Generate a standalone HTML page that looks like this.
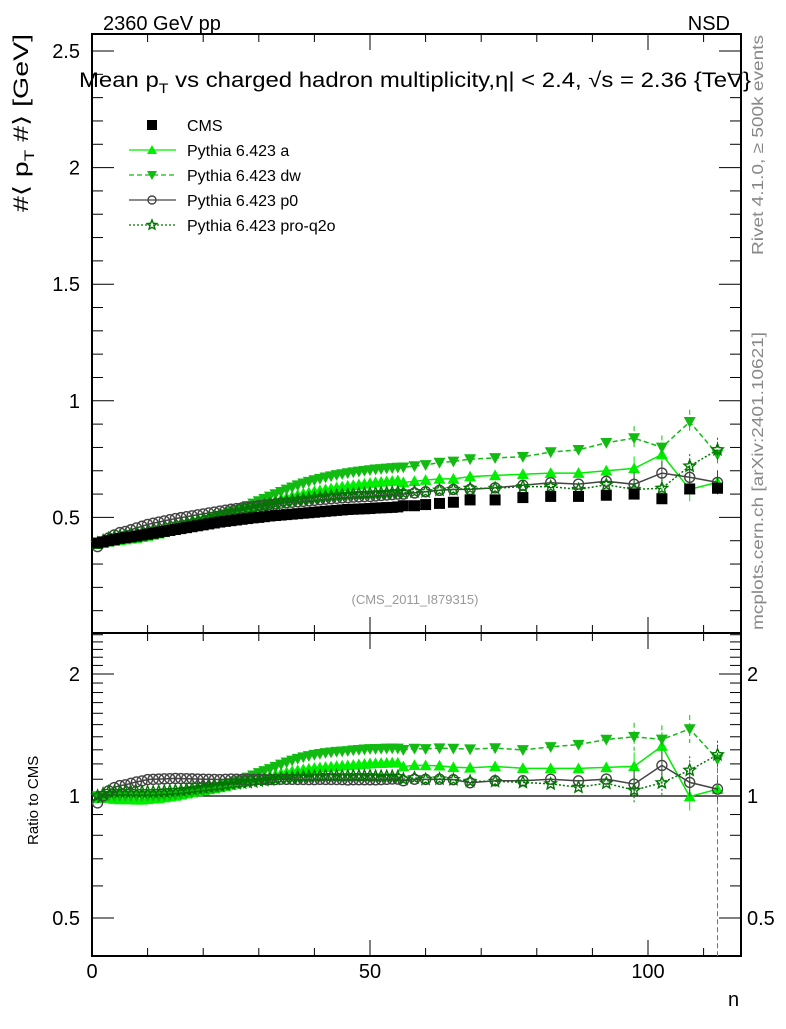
<!DOCTYPE html>
<html><head><meta charset="utf-8"><style>
body{margin:0;background:#fff;}
svg text{font-family:"Liberation Sans",sans-serif;}
</style></head><body>
<svg id="chart" width="786" height="1024" xmlns="http://www.w3.org/2000/svg">
<g id="frames"></g>
<g id="marks"></g>
<g id="texts">
<text x="103" y="30" font-size="20">2360 GeV pp</text>
<text x="730" y="30" font-size="20" text-anchor="end">NSD</text>
<text x="79" y="87" font-size="21" textLength="672" lengthAdjust="spacingAndGlyphs">Mean p<tspan font-size="14" dy="6">T</tspan><tspan dy="-6"> vs charged hadron multiplicity,</tspan>η| &lt; 2.4, √s = 2.36 {TeV}</text>
<text transform="translate(28,212) rotate(-90)" font-size="21" textLength="178" lengthAdjust="spacingAndGlyphs">#⟨ p<tspan font-size="14" dy="6">T</tspan><tspan dy="-6"> #⟩ [GeV]</tspan></text>
<text transform="translate(763,255) rotate(-90)" font-size="16" fill="#888" textLength="220" lengthAdjust="spacingAndGlyphs">Rivet 4.1.0, ≥ 500k events</text>
<text transform="translate(763,630) rotate(-90)" font-size="16" fill="#888" textLength="298" lengthAdjust="spacingAndGlyphs">mcplots.cern.ch [arXiv:2401.10621]</text>
<text x="415" y="604" font-size="13" fill="#999" text-anchor="middle">(CMS_2011_I879315)</text>
<text transform="translate(38,845) rotate(-90)" font-size="15">Ratio to CMS</text>
<text x="728" y="1006" font-size="20">n</text>
</g>
<g id="legend"></g>
</svg>
<script>
const nBins = [1,2,3,4,5,6,7,8,9,10,11,12,13,14,15,16,17,18,19,20,21,22,23,24,25,26,27,28,29,30,31,32,33,34,35,36,37,38,39,40,41,42,43,44,45,46,47,48,49,50,51,52,53,54,55,56,58,60,62.5,65,68,72.5,77.5,82.5,87.5,92.5,97.5,102.5,107.5,112.5];
const cmsVals = [.39,.395,.40,.405,.41,.413,.416,.42,.424,.428,.432,.436,.44,.444,.448,.452,.456,.46,.464,.468,.472,.476,.48,.483,.486,.489,.492,.495,.498,.50,.503,.506,.508,.51,.512,.514,.516,.518,.52,.522,.524,.526,.528,.53,.532,.534,.535,.536,.537,.538,.54,.541,.542,.543,.545,.55,.55,.555,.56,.565,.575,.575,.585,.59,.59,.595,.60,.58,.622,.625];
const aVals = [.385,.39,.395,.398,.402,.405,.408,.411,.415,.42,.425,.43,.436,.442,.448,.455,.462,.469,.476,.483,.49,.497,.504,.511,.518,.525,.532,.539,.546,.553,.56,.567,.574,.58,.586,.592,.597,.602,.607,.612,.616,.62,.624,.628,.632,.635,.638,.641,.644,.647,.65,.652,.654,.656,.658,.65,.655,.66,.665,.665,.675,.68,.685,.69,.69,.70,.71,.77,.62,.65];
const dwVals = [.39,.395,.4,.405,.41,.413,.416,.42,.424,.428,.432,.436,.441,.446,.451,.457,.463,.469,.476,.483,.49,.498,.506,.514,.523,.532,.541,.55,.56,.57,.58,.59,.6,.61,.62,.629,.638,.646,.653,.66,.666,.672,.677,.682,.686,.69,.694,.697,.70,.703,.706,.708,.71,.712,.714,.715,.72,.725,.735,.74,.75,.755,.76,.78,.79,.82,.84,.80,.91,.77];
const p0Vals = [.375,.395,.412,.425,.435,.44,.447,.455,.462,.47,.475,.48,.485,.49,.495,.499,.503,.507,.511,.515,.519,.523,.527,.531,.535,.538,.541,.544,.547,.55,.553,.556,.558,.561,.563,.565,.567,.569,.571,.573,.576,.578,.58,.582,.584,.585,.587,.588,.589,.59,.592,.594,.596,.598,.6,.6,.605,.61,.616,.62,.62,.627,.638,.649,.643,.655,.642,.69,.672,.65];
const q2oVals = [.39,.40,.41,.415,.42,.423,.426,.43,.434,.438,.442,.447,.452,.457,.462,.467,.473,.479,.485,.491,.497,.503,.509,.515,.52,.525,.53,.535,.54,.545,.55,.555,.559,.563,.567,.571,.575,.578,.581,.584,.587,.59,.592,.594,.596,.598,.6,.601,.602,.603,.604,.605,.606,.607,.608,.605,.61,.61,.617,.62,.625,.625,.632,.632,.62,.64,.62,.625,.72,.79];
const mainTicks = [0.5,1,1.5,2,2.5];
const mainTickLabels = ["0.5","1","1.5","2","2.5"];
const ratioTicks = [0.5,1,2];
const ratioTickLabels = ["0.5","1","2"];
const xTicks = [0,50,100];
const xTickLabels = ["0","50","100"];

const NS="http://www.w3.org/2000/svg";
const X0=92, X1=741, MT=34, MB=633, RB=956;
const xs = n => X0 + n*5.56;
const ym = v => 634 - v*233.2;
const yr = r => 796 - Math.log2(r)*122;
function mk(tag, attrs, parent){const e=document.createElementNS(NS,tag);for(const k in attrs)e.setAttribute(k,attrs[k]);parent.appendChild(e);return e;}
const frames=document.getElementById('frames'), marks=document.getElementById('marks'), legend=document.getElementById('legend');

let f1=mk('rect',{x:X0,y:MT,width:X1-X0,height:MB-MT,fill:'none',stroke:'#000','stroke-width':2},frames);


let f2=mk('rect',{x:X0,y:MB,width:X1-X0,height:RB-MB,fill:'none',stroke:'#000','stroke-width':2},frames);


let ref=mk('line',{x1:X0,x2:X1,y1:yr(1),y2:yr(1),stroke:'#000','stroke-width':1.3},frames);



for(let n=0;n<=115;n+=10){
  const major = n%50===0;
  for(const [yb,dir] of [[MB,-1],[MT,1],[RB,-1],[MB,1]]){
    mk('line',{x1:xs(n),x2:xs(n),y1:yb,y2:yb+dir*(major?16:8),stroke:'#000','stroke-width':1},frames);
  }
}
xTicks.forEach((t,i)=>{
  const tx=mk('text',{x:xs(t),y:978,'font-size':20,'text-anchor':'middle'},frames);
  tx.textContent=xTickLabels[i];
  
  
});
for(let v=0.1;v<2.6;v+=0.1){
  const major=Math.abs(v*2-Math.round(v*2))<1e-6;
  const L=major?22:11;
  mk('line',{x1:X0,x2:X0+L,y1:ym(v),y2:ym(v),stroke:'#000'},frames);
  mk('line',{x1:X1,x2:X1-L,y1:ym(v),y2:ym(v),stroke:'#000'},frames);
}
mainTicks.forEach((t,i)=>{
  const tx=mk('text',{x:80,y:ym(t)+7,'font-size':20,'text-anchor':'end'},frames);
  tx.textContent=mainTickLabels[i];
  
  
});
[0.5,0.6,0.7,0.8,0.9,1,1.1,1.2,1.3,1.4,1.5,1.6,1.7,1.8,1.9,2,2.1,2.2,2.3,2.4,2.5].forEach(r=>{
  const major=ratioTicks.includes(r);
  const L=major?22:11;
  mk('line',{x1:X0,x2:X0+L,y1:yr(r),y2:yr(r),stroke:'#000'},frames);
  mk('line',{x1:X1,x2:X1-L,y1:yr(r),y2:yr(r),stroke:'#000'},frames);
});
ratioTicks.forEach((t,i)=>{
  const a=mk('text',{x:80,y:yr(t)+7,'font-size':20,'text-anchor':'end'},frames);
  a.textContent=ratioTickLabels[i];
  
  
  const b=mk('text',{x:747,y:yr(t)+7,'font-size':20},frames);
  b.textContent=ratioTickLabels[i];
  
  
});

function marker(type,x,y,color,parent,s){
  s=s||6;
  if(type==='sq') return mk('rect',{x:x-s,y:y-s,width:2*s,height:2*s,fill:'#000'},parent);
  if(type==='up') return mk('polygon',{points:`${x},${y-s} ${x-s},${y+s*0.8} ${x+s},${y+s*0.8}`,fill:color},parent);
  if(type==='dn') return mk('polygon',{points:`${x},${y+s} ${x-s},${y-s*0.8} ${x+s},${y-s*0.8}`,fill:color},parent);
  if(type==='circ') return mk('circle',{cx:x,cy:y,r:s-1,fill:'none',stroke:color,'stroke-width':1.4},parent);
  if(type==='star'){let p=[];for(let k=0;k<10;k++){const r=k%2?s*0.45:s;const a=-Math.PI/2+k*Math.PI/5;p.push((x+r*Math.cos(a)).toFixed(1)+','+(y+r*Math.sin(a)).toFixed(1));}
    return mk('polygon',{points:p.join(' '),fill:'none',stroke:color,'stroke-width':1.4},parent);}
}
const series=[
 {name:'a',vals:aVals,color:'#00ee00',type:'up',dash:null},
 {name:'dw',vals:dwVals,color:'#11bb11',type:'dn',dash:'5,3'},
 {name:'p0',vals:p0Vals,color:'#444',type:'circ',dash:null},
 {name:'q2o',vals:q2oVals,color:'#007700',type:'star',dash:'2,2'}
];
series.forEach(s=>{
  const g=mk('g',{},marks);
  
  
  const pm=nBins.map((n,i)=>xs(n).toFixed(1)+','+ym(s.vals[i]).toFixed(1)).join(' ');
  const pr=nBins.map((n,i)=>xs(n).toFixed(1)+','+yr(s.vals[i]/cmsVals[i]).toFixed(1)).join(' ');
  const la={fill:'none',stroke:s.color,'stroke-width':1.5};
  if(s.dash) la['stroke-dasharray']=s.dash;
  mk('polyline',Object.assign({points:pm},la),g);
  mk('polyline',Object.assign({points:pr},la),g);
  nBins.forEach((n,i)=>{
    if(n>95){
      mk('line',{x1:xs(n),x2:xs(n),y1:ym(s.vals[i])-12,y2:ym(s.vals[i])+12,stroke:s.color,'stroke-dasharray':s.dash||''},g);
      mk('line',{x1:xs(n),x2:xs(n),y1:yr(s.vals[i]/cmsVals[i])-14,y2:yr(s.vals[i]/cmsVals[i])+14,stroke:s.color,'stroke-dasharray':s.dash||''},g);
    }
    const m1=marker(s.type,xs(n),ym(s.vals[i]),s.color,g);
    
    
    const m2=marker(s.type,xs(n),yr(s.vals[i]/cmsVals[i]),s.color,g);
    
    
  });
});
const dwErr=mk('line',{x1:xs(112.5),x2:xs(112.5),y1:yr(dwVals[69]/cmsVals[69]),y2:RB,stroke:'#11bb11','stroke-dasharray':'5,3'},marks);


const cg=mk('g',{},marks);


nBins.forEach((n,i)=>{
  const m=marker('sq',xs(n),ym(cmsVals[i]),'#000',cg,5.5);
  
  
});

const leg=[['CMS','sq','#000',null,false],['Pythia 6.423 a','up','#00ee00',null,true],['Pythia 6.423 dw','dn','#11bb11','5,3',true],['Pythia 6.423 p0','circ','#444',null,true],['Pythia 6.423 pro-q2o','star','#007700','2,2',true]];
leg.forEach((e,i)=>{
  const y=125+i*25;
  const g=mk('g',{},legend);
  
  
  if(e[4]){const a={x1:129,x2:176,y1:y,y2:y,stroke:e[2],'stroke-width':1.3};if(e[3])a['stroke-dasharray']=e[3];mk('line',a,g);}
  marker(e[1],152,y,e[2],g,5);
  const t=mk('text',{x:187,y:y+6,'font-size':16},g);
  t.textContent=e[0];
});
</script>
</body></html>
